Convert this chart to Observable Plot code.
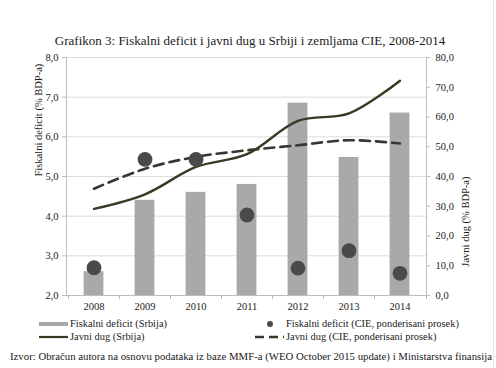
<!DOCTYPE html>
<html>
<head>
<meta charset="utf-8">
<script src="https://cdn.jsdelivr.net/npm/d3@7"></script>
<script src="https://cdn.jsdelivr.net/npm/@observablehq/plot@0.6"></script>
<style>
  html, body { margin: 0; padding: 0; background: #fff; }
  #wrap { position: relative; width: 496px; height: 368px; overflow: hidden; background: #fff;
          font-family: "Liberation Serif", "Times New Roman", serif; color: #1a1a1a; }
  #chart { position: absolute; left: 0; top: 0; }
  .abs { position: absolute; white-space: nowrap; line-height: 1; }
  #title { left: 0; width: 500px; text-align: center; top: 34px; font-size: 13px; }
  #source { left: 0; top: 348px; }
  .leg { font-size: 10.4px; display: flex; align-items: center; font-family: "Liberation Serif", "Times New Roman", serif; }
  .leg svg { margin-right: 1px; }
  #edge { position: absolute; left: 493px; top: 0; width: 1px; height: 368px; background: #e6e6e6; }
</style>
</head>
<body>
<div id="wrap">
  <div id="chart"></div>
  <div id="title" class="abs">Grafikon 3: Fiskalni deficit i javni dug u Srbiji i zemljama CIE, 2008-2014</div>
  <div id="legend"></div>
  <svg id="source" class="abs" width="496" height="16"><text x="10" y="12" textLength="482" lengthAdjust="spacingAndGlyphs" font-size="10.8" fill="#1a1a1a" font-family="Liberation Serif, Times New Roman, serif">Izvor: Obračun autora na osnovu podataka iz baze MMF-a (WEO October 2015 update) i Ministarstva finansija</text></svg>
  <div id="edge"></div>
</div>
<script>
// ---- data ----
const years = ["2008", "2009", "2010", "2011", "2012", "2013", "2014"];
const deficitSrbija = [2.6, 4.4, 4.6, 4.8, 6.85, 5.48, 6.6];
const deficitCIE = [2.7, 5.43, 5.43, 4.03, 2.69, 3.13, 2.56];
const dugSrbija = [29.1, 34.0, 43.2, 47.5, 58.7, 61.2, 72.2];
const dugCIE = [35.9, 42.6, 46.6, 48.8, 50.5, 52.2, 51.1];
const leftTicks = [2, 3, 4, 5, 6, 7, 8];
const rightTicks = [0, 10, 20, 30, 40, 50, 60, 70, 80];
const legendLabels = ["Fiskalni deficit (Srbija)", "Fiskalni deficit (CIE, ponderisani prosek)",
                      "Javni dug (Srbija)", "Javni dug (CIE, ponderisani prosek)"];

// colours / styles
const barColor = "#a9a9a9";
const dotColor = "#4a4a4a";
const lineColor = "#3a3924";
const dashColor = "#38372f";
const axisColor = "#bdbdbd";
const gridColor = "#dcdcdc";
const serif = '"Liberation Serif", "Times New Roman", serif';

// right axis (0..80) mapped onto left axis (2..8)
const L0 = 2, L1 = 8, R0 = 0, R1 = 80;
const toLeft = v => L0 + (v - R0) * (L1 - L0) / (R1 - R0);
const toRight = y => R0 + (y - L0) * (R1 - R0) / (L1 - L0);
const fmt = v => v.toFixed(1).replace(".", ",");

const rows = years.map((year, i) => ({
  year, defS: deficitSrbija[i], defC: deficitCIE[i],
  dugS: toLeft(dugSrbija[i]), dugC: toLeft(dugCIE[i])
}));

const chart = Plot.plot({
  width: 496,
  height: 315,
  marginTop: 57,
  marginBottom: 20,
  marginLeft: 66,
  marginRight: 70,
  style: { fontFamily: serif, fontSize: "10.5px", color: "#1a1a1a", background: "transparent" },
  x: { domain: years, padding: 0, label: null },
  y: { domain: [L0, L1], label: null },
  marks: [
    Plot.gridY(leftTicks, { stroke: gridColor, strokeOpacity: 1 }),
    Plot.barY(rows, { x: "year", y1: L0, y2: "defS", fill: barColor, insetLeft: 15.6, insetRight: 15.6 }),
    Plot.line(rows, { x: "year", y: "dugC", stroke: dashColor, strokeWidth: 2.6, strokeDasharray: "10,6", curve: "catmull-rom" }),
    Plot.line(rows, { x: "year", y: "dugS", stroke: lineColor, strokeWidth: 2.4, curve: "catmull-rom" }),
    Plot.dot(rows, { x: "year", y: "defC", r: 7.4, fill: dotColor, stroke: "none" }),
    Plot.ruleY([L0], { stroke: axisColor, strokeWidth: 1 }),
    Plot.axisY({ anchor: "left", ticks: leftTicks, tickFormat: fmt, tickSize: 4, tickPadding: 4, stroke: axisColor, fill: "#1a1a1a", fontFamily: serif, label: null }),
    Plot.axisY({ anchor: "right", ticks: rightTicks.map(toLeft), tickFormat: d => fmt(toRight(d)), tickSize: 3, tickPadding: 6, stroke: axisColor, fill: "#1a1a1a", fontFamily: serif, label: null }),
    Plot.axisX({ anchor: "bottom", tickSize: 0, tickPadding: 7, fill: "#1a1a1a", fontFamily: serif, label: null }),
    Plot.text(["Fiskalni deficit (% BDP-a)"], { frameAnchor: "left", dx: -28, rotate: -90, fontSize: 10.5, fontFamily: serif, fill: "#1a1a1a" }),
    Plot.text(["Javni dug (% BDP-a)"], { frameAnchor: "right", dx: 39, rotate: -90, fontSize: 10.5, fontFamily: serif, fill: "#1a1a1a" })
  ]
});
document.getElementById("chart").appendChild(chart);

// axis lines and between-category ticks, placed through the plot's scales
const xs = chart.scale("x"), ys = chart.scale("y");
const svg = d3.select(chart);
const yBot = ys.apply(L0), yTop = ys.apply(L1);
const xLeft = xs.range[0], xRight = xs.range[1];
const g = svg.append("g").attr("stroke", axisColor).attr("stroke-width", 1).attr("shape-rendering", "crispEdges");
g.append("line").attr("x1", xLeft).attr("x2", xLeft).attr("y1", yTop).attr("y2", yBot);
g.append("line").attr("x1", xRight).attr("x2", xRight).attr("y1", yTop).attr("y2", yBot);
years.forEach(yr => {
  const bx = xs.apply(yr);
  g.append("line").attr("x1", bx).attr("x2", bx).attr("y1", yBot).attr("y2", yBot + 4);
});
g.append("line").attr("x1", xRight).attr("x2", xRight).attr("y1", yBot).attr("y2", yBot + 4);

// legend
const legend = document.getElementById("legend");
function legItem(left, top, swatch, text) {
  const d = document.createElement("div");
  d.className = "abs leg";
  d.style.left = left + "px";
  d.style.top = top + "px";
  d.innerHTML = swatch + "<span>" + text + "</span>";
  legend.appendChild(d);
}
const sw = inner => `<svg width="30" height="10" style="display:block">${inner}</svg>`;
legItem(39, 319, sw(`<rect x="0" y="3" width="29" height="4" fill="${barColor}"/>`), legendLabels[0]);
legItem(255, 319, sw(`<circle cx="15" cy="5" r="3" fill="${dotColor}"/>`), legendLabels[1]);
legItem(39, 332, sw(`<line x1="0" x2="29" y1="5" y2="5" stroke="${lineColor}" stroke-width="2.2"/>`), legendLabels[2]);
legItem(255, 332, sw(`<line x1="0" x2="29" y1="5" y2="5" stroke="${dashColor}" stroke-width="2.4" stroke-dasharray="9,5"/>`), legendLabels[3]);
</script>
</body>
</html>
